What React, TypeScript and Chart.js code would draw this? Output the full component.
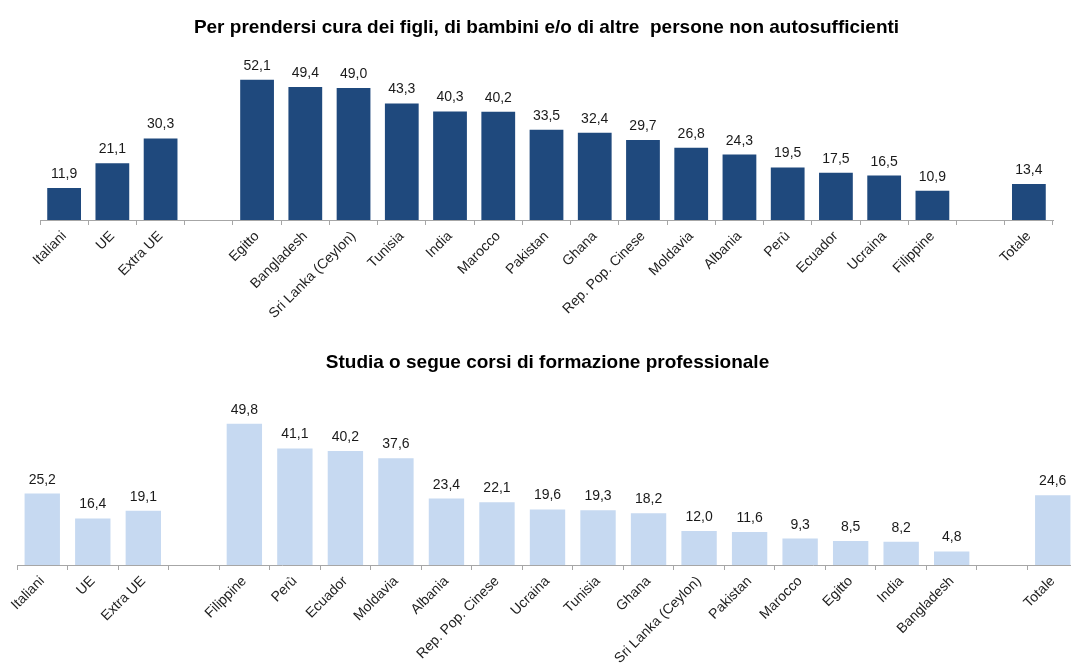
import React, { useEffect, useRef } from 'react';
import { Chart, registerables } from 'chart.js';

Chart.register(...registerables);

const FONT = '"Liberation Sans", Arial, sans-serif';

const topTitle = 'Per prendersi cura dei figli, di bambini e/o di altre  persone non autosufficienti';
const topLabels = ['Italiani', 'UE', 'Extra UE', '', 'Egitto', 'Bangladesh', 'Sri Lanka (Ceylon)', 'Tunisia', 'India', 'Marocco', 'Pakistan', 'Ghana', 'Rep. Pop. Cinese', 'Moldavia', 'Albania', 'Perù', 'Ecuador', 'Ucraina', 'Filippine', '', 'Totale'];
const topValues = [11.9, 21.1, 30.3, null, 52.1, 49.4, 49.0, 43.3, 40.3, 40.2, 33.5, 32.4, 29.7, 26.8, 24.3, 19.5, 17.5, 16.5, 10.9, null, 13.4];

const bottomTitle = 'Studia o segue corsi di formazione professionale';
const bottomLabels = ['Italiani', 'UE', 'Extra UE', '', 'Filippine', 'Perù', 'Ecuador', 'Moldavia', 'Albania', 'Rep. Pop. Cinese', 'Ucraina', 'Tunisia', 'Ghana', 'Sri Lanka (Ceylon)', 'Pakistan', 'Marocco', 'Egitto', 'India', 'Bangladesh', '', 'Totale'];
const bottomValues = [25.2, 16.4, 19.1, null, 49.8, 41.1, 40.2, 37.6, 23.4, 22.1, 19.6, 19.3, 18.2, 12.0, 11.6, 9.3, 8.5, 8.2, 4.8, null, 24.6];

const valueLabels = {
  id: 'valueLabels',
  afterDatasetsDraw(chart: any) {
    const ctx = chart.ctx;
    const meta = chart.getDatasetMeta(0);
    const data = chart.data.datasets[0].data;
    ctx.save();
    ctx.font = '14px ' + FONT;
    ctx.fillStyle = '#1a1a1a';
    ctx.textAlign = 'center';
    ctx.textBaseline = 'alphabetic';
    meta.data.forEach((bar: any, i: number) => {
      const v = data[i];
      if (v == null) return;
      ctx.fillText(Number(v).toFixed(1).replace('.', ','), bar.x, bar.y - 10);
    });
    ctx.restore();
  },
};

type PanelProps = {
  title: string;
  labels: string[];
  values: (number | null)[];
  color: string;
  width: number;
  height: number;
  top: number;
  padLeft: number;
  padRight: number;
  axisHeight: number;
  yMax: number;
  titleBottom: number;
};

function BarPanel(p: PanelProps) {
  const ref = useRef<HTMLCanvasElement | null>(null);
  useEffect(() => {
    if (!ref.current) return;
    const chart = new Chart(ref.current, {
      type: 'bar',
      data: {
        labels: p.labels,
        datasets: [
          {
            data: p.values,
            backgroundColor: p.color,
            barPercentage: 0.7,
            categoryPercentage: 1,
          },
        ],
      },
      options: {
        responsive: false,
        animation: false,
        events: [],
        layout: { padding: { left: p.padLeft, right: p.padRight, top: 0, bottom: 0 } },
        plugins: {
          legend: { display: false },
          tooltip: { enabled: false },
          title: {
            display: true,
            text: p.title,
            color: '#000',
            font: { family: FONT, size: 19, weight: 'bold', lineHeight: 1.2 },
            padding: { top: 16, bottom: p.titleBottom },
          },
        },
        scales: {
          x: {
            grid: {
              display: true,
              drawOnChartArea: false,
              drawTicks: true,
              tickLength: 5,
              color: '#A6A6A6',
              offset: true,
            },
            border: { display: true, color: '#A6A6A6', width: 1 },
            ticks: {
              minRotation: 45,
              maxRotation: 45,
              autoSkip: false,
              color: '#222',
              font: { family: FONT, size: 14 },
              padding: 3,
            },
            afterFit: (s: any) => {
              s.height = p.axisHeight;
            },
          },
          y: { display: false, min: 0, max: p.yMax },
        },
      },
      plugins: [valueLabels],
    } as any);
    return () => chart.destroy();
  }, []);
  return (
    <canvas
      ref={ref}
      width={p.width}
      height={p.height}
      style={{ position: 'absolute', left: 0, top: p.top, width: p.width, height: p.height, display: 'block' }}
    />
  );
}

export default function App() {
  return (
    <div
      style={{
        position: 'absolute',
        left: 0,
        top: 0,
        width: 1071,
        height: 668,
        overflow: 'hidden',
        background: '#fff',
      }}
    >
      <BarPanel
        title={topTitle}
        labels={topLabels}
        values={topValues}
        color="#1F497D"
        width={1071}
        height={335}
        top={0}
        padLeft={40}
        padRight={18}
        axisHeight={115}
        yMax={60}
        titleBottom={19.6}
      />
      <BarPanel
        title={bottomTitle}
        labels={bottomLabels}
        values={bottomValues}
        color="#C6D9F1"
        width={1100}
        height={333}
        top={335}
        padLeft={17}
        padRight={22}
        axisHeight={103}
        yMax={60}
        titleBottom={21}
      />
    </div>
  );
}
